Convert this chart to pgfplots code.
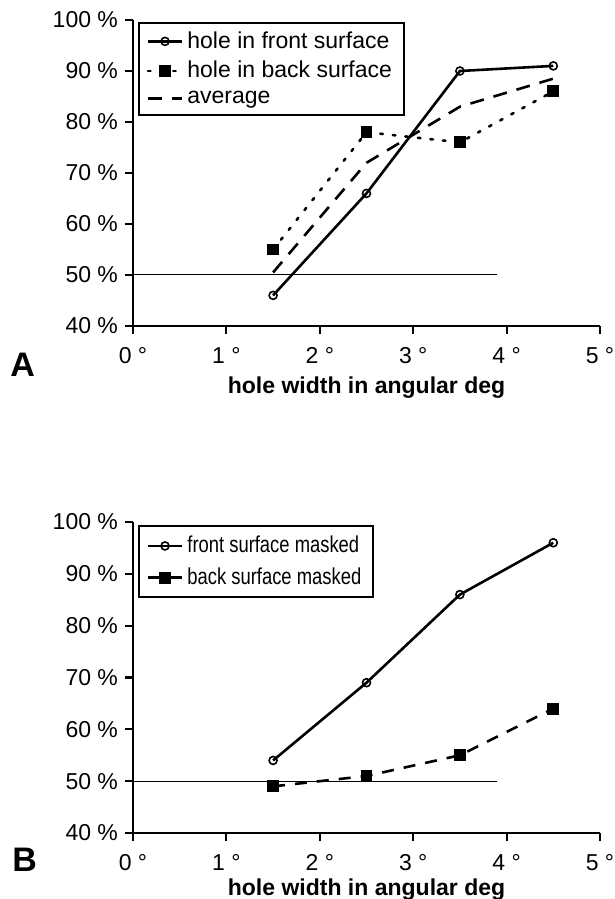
\documentclass[border=0pt]{standalone}
\usepackage{fontspec}
\setmainfont{Liberation Sans}
\newfontfamily\narrowsans[FakeStretch=0.8]{Liberation Sans}
\usepackage{pgfplots}
\pgfplotsset{compat=1.18}
\usetikzlibrary{calc}

\newcommand{\fs}{\fontsize{11.5}{13.5}\selectfont}

\pgfplotsset{
  panel/.style={
    scale only axis, width=233.5pt, height=153pt,
    xmin=0, xmax=5, ymin=40, ymax=100,
    axis x line*=bottom, axis y line*=left,
    axis line style={-, line width=1.1pt},
    xtick={0,...,5}, xticklabels={0 °,1 °,2 °,3 °,4 °,5 °},
    ytick={40,50,...,100},
    yticklabels={40 \%,50 \%,60 \%,70 \%,80 \%,90 \%,100 \%},
    tick align=outside, major tick length=4pt,
    tick style={line width=1.1pt, black},
    tick label style={font=\fs},
    xticklabel style={yshift=-3pt},
    xlabel={hole width in angular deg},
    xlabel style={font=\fs\bfseries, yshift=0pt},
    legend style={at={(rel axis cs:0.01,0.995)}, anchor=north west,
      font=\fs, draw=black, line width=1pt, legend cell align=left,
      inner xsep=4pt, inner ysep=2.5pt, row sep=1pt},
    clip=false,
  },
  front/.style={black, line width=1.3pt, mark=o, mark size=2pt,
    mark options={solid, fill=white, line width=0.8pt}},
  back/.style={black, line width=1.3pt, mark=square*, mark size=2.3pt,
    mark options={solid}},
  fifty/.style={black, line width=0.5pt, forget plot},
}
\tikzset{panellabel/.style={font=\fontsize{17}{20}\selectfont\bfseries,
    anchor=west, inner sep=0pt}}

\begin{document}
\begin{tikzpicture}
\begin{axis}[panel, name=A, at={(0,253.5pt)}, anchor=south west]
\addplot[fifty] coordinates {(0,50) (3.9,50)};
\addplot[front] coordinates {(1.5,46) (2.5,66) (3.5,90) (4.5,91)};
\addplot[back, dash pattern=on 1.3pt off 5pt, line cap=round]
  coordinates {(1.5,55) (2.5,78) (3.5,76) (4.5,86)};
\addplot[black, line width=1.3pt, dash pattern=on 7pt off 5pt]
  coordinates {(1.5,50.5) (2.5,72) (3.5,83) (4.5,88.5)};
\legend{hole in front surface, hole in back surface, average}
\end{axis}
\node[panellabel] at ($(A.south west)+(-61.5pt,-19.5pt)$) {A};

\begin{axis}[panel, name=B, at={(0,0)}, anchor=south west, height=155.5pt,
  legend style={at={(rel axis cs:0.01,0.99)}, font=\fs\narrowsans,
    inner ysep=3pt, row sep=2pt},
  xlabel style={yshift=2.5pt}]
\addplot[fifty] coordinates {(0,50) (3.9,50)};
\addplot[front] coordinates {(1.5,54) (2.5,69) (3.5,86) (4.5,96)};
\addplot[back, dash pattern=on 6pt off 5pt]
  coordinates {(1.5,49) (2.5,51) (3.5,55) (4.5,64)};
\legend{front surface masked, back surface masked}
\end{axis}
\node[panellabel] at ($(B.south west)+(-60.5pt,-13.5pt)$) {B};

% page frame as in the reference
\pgfresetboundingbox
\path (-66.5pt,-33pt) rectangle (241pt,416.5pt);
\end{tikzpicture}
\end{document}
